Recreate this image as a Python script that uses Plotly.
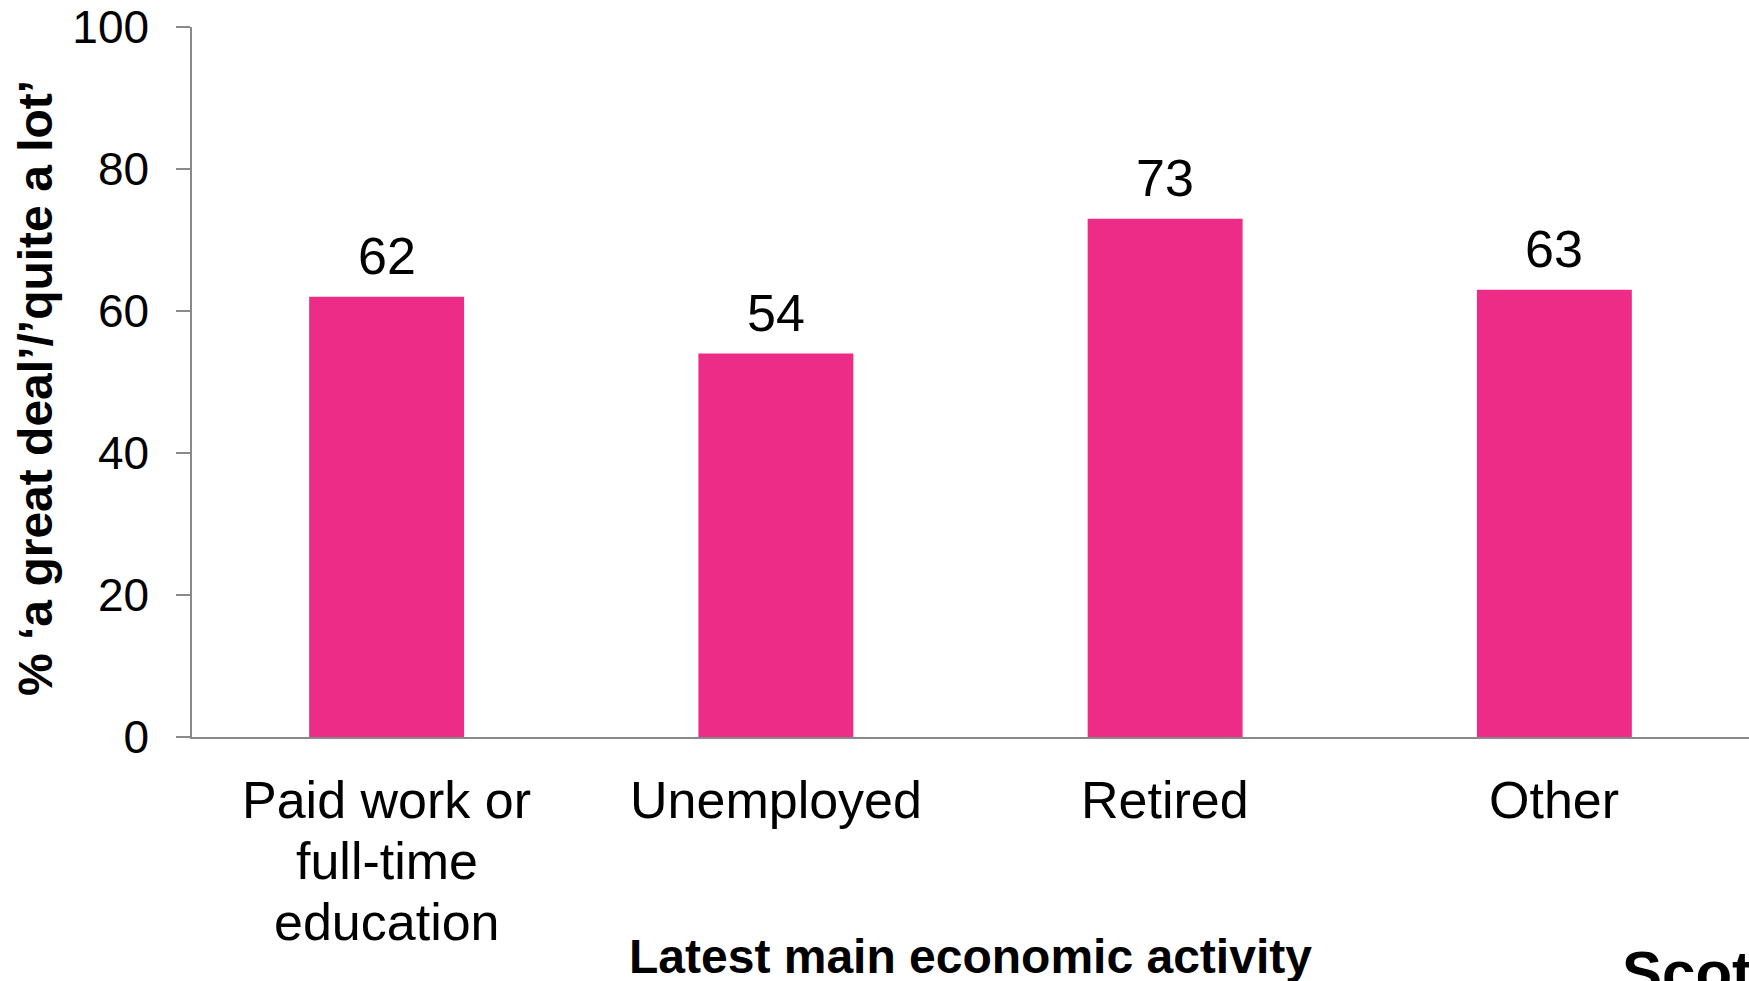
import plotly.graph_objects as go

# Share saying 'a great deal' / 'quite a lot', by latest main economic activity
categories = ["Paid work or full-time education", "Unemployed", "Retired", "Other"]
category_lines = [["Paid work or", "full-time", "education"], ["Unemployed"], ["Retired"], ["Other"]]
values = [62, 54, 73, 63]
y_ticks = [0, 20, 40, 60, 80, 100]

BAR_COLOR = "#ED2C87"
AXIS_COLOR = "#898989"
FONT = "Liberation Sans, Arial, Helvetica, sans-serif"

W, H = 1749, 981
M_L, M_R, M_T, M_B = 192, 0, 27, 244

fig = go.Figure(
    go.Bar(
        x=categories,
        y=values,
        marker=dict(color=BAR_COLOR, line=dict(width=0)),
        hoverinfo="x+y",
    )
)

annotations = []

# value labels above each bar
for cat, v in zip(categories, values):
    annotations.append(dict(
        x=cat, y=v, xref="x", yref="y", text=str(v), showarrow=False,
        xanchor="center", yanchor="bottom", yshift=10,
        font=dict(family=FONT, size=52, color="#000000"),
    ))

# category labels under the axis, one line at a time
LINE_STEP = 61
for cat, lines in zip(categories, category_lines):
    for i, line in enumerate(lines):
        annotations.append(dict(
            x=cat, y=0, xref="x", yref="y", text=line, showarrow=False,
            xanchor="center", yanchor="top", yshift=-32 - i * LINE_STEP,
            font=dict(family=FONT, size=52, color="#000000"),
        ))

# axis titles
annotations.append(dict(
    x=0.5, y=0, xref="paper", yref="paper",
    text="<b>Latest main economic activity</b>", showarrow=False,
    xanchor="center", yanchor="top", yshift=-191,
    font=dict(family=FONT, size=48, color="#000000"),
))
annotations.append(dict(
    x=(35 - M_L) / (W - M_L - M_R), y=(H - M_B - 388) / (H - M_T - M_B),
    xref="paper", yref="paper",
    text="<b>% \u2018a great deal\u2019/\u2019quite a lot\u2019</b>", showarrow=False,
    textangle=-90, xanchor="center", yanchor="middle",
    font=dict(family=FONT, size=48, color="#000000"),
))

# publisher wordmark in the bottom-right corner
annotations.append(dict(
    x=(1620 - M_L) / (W - M_L - M_R), y=0, xref="paper", yref="paper",
    text="<b>Scottish Government</b>", showarrow=False,
    xanchor="left", yanchor="top", yshift=-200,
    font=dict(family="Liberation Sans Narrow, Arial Narrow, " + FONT, size=60, color="#000000"),
))

fig.update_layout(
    width=W, height=H,
    margin=dict(l=M_L, r=M_R, t=M_T, b=M_B, pad=0),
    paper_bgcolor="#FFFFFF", plot_bgcolor="#FFFFFF",
    bargap=0.602,
    showlegend=False,
    font=dict(family=FONT, color="#000000"),
    annotations=annotations,
    xaxis=dict(
        range=[-0.5, 3.5],
        showline=True, linecolor=AXIS_COLOR, linewidth=1.5,
        showticklabels=False, ticks="", showgrid=False, zeroline=False,
        fixedrange=True,
    ),
    yaxis=dict(
        range=[0, 100],
        tickvals=y_ticks, ticktext=[str(t) for t in y_ticks],
        showline=True, linecolor=AXIS_COLOR, linewidth=1.5,
        ticks="outside", ticklen=14, tickwidth=1.5, tickcolor=AXIS_COLOR,
        ticklabelstandoff=18,
        tickfont=dict(family=FONT, size=46, color="#000000"),
        showgrid=False, zeroline=False,
        fixedrange=True,
    ),
)

fig.write_html("out.html")
